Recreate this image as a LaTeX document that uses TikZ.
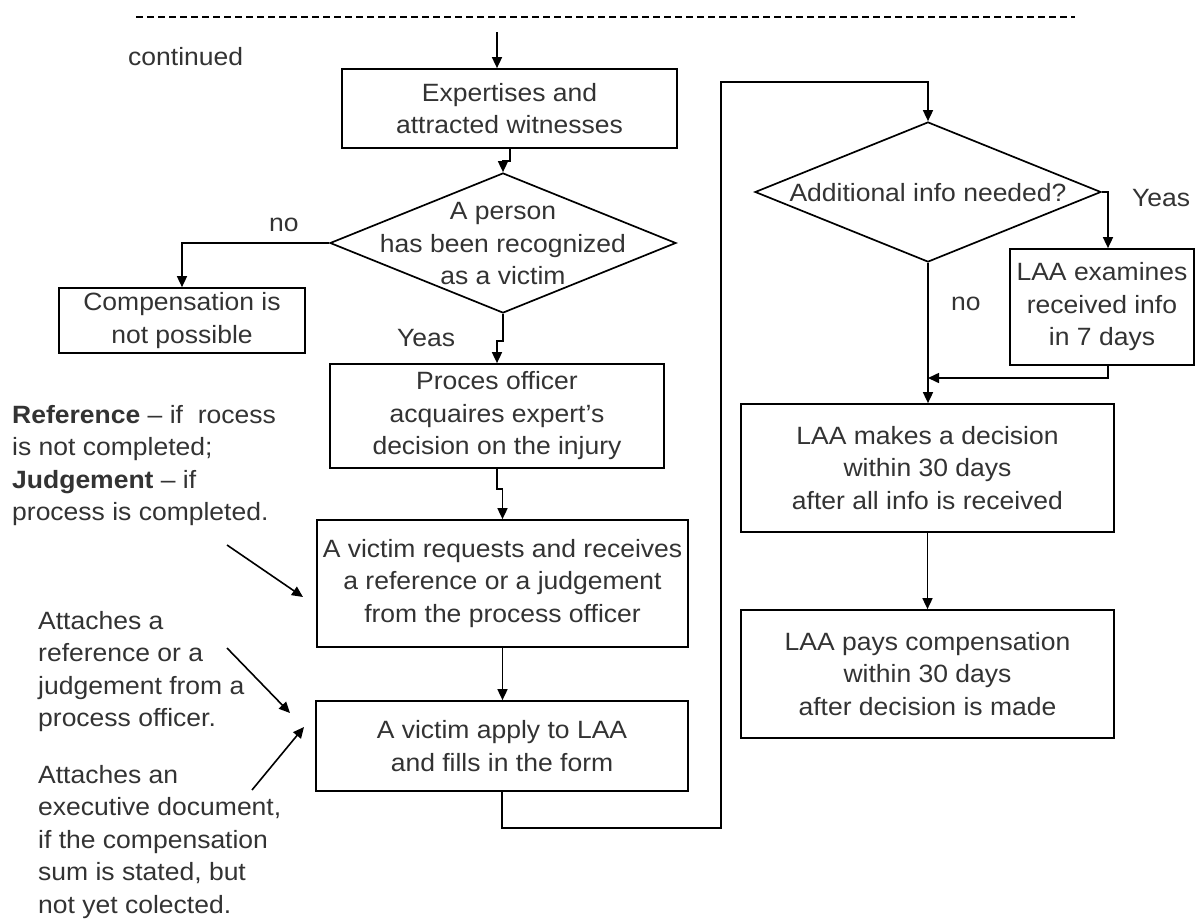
\documentclass[tikz,border=0pt]{standalone}
\usepackage{fontspec}
\setmainfont{Liberation Sans}[FakeStretch=1.06]
\usetikzlibrary{arrows.meta,shapes.geometric}
\tikzset{
  box/.style={draw, line width=1.7pt, rectangle, inner sep=0pt, align=center, text=black!80},
  dia/.style={draw, line width=1.7pt, diamond, inner sep=0pt, minimum width=346pt, minimum height=140pt},
  diatext/.style={inner sep=0pt, align=center, text=black!80},
  arr/.style={line width=1.6pt, -{Triangle[length=11pt,width=10pt]}},
  conn/.style={line width=1.6pt},
  lbl/.style={inner sep=0pt, text=black!80, anchor=base west},
  note/.style={inner sep=0pt, align=left, anchor=north west, text=black!80},
  sep line/.style={line width=1.1pt, dash pattern=on 7pt off 4pt}
}
\begin{document}
\begin{tikzpicture}[x=1pt, y=-1pt, font=\fontsize{25}{32.5}\selectfont]
\fill[white] (0,0) rectangle (1195,919);
\useasboundingbox (0,0) rectangle (1195,919);

% separator line
\coordinate (ds) at (136,17);
\coordinate (de) at (1075,17);
\draw[sep line] (ds) -- (de);

\node[lbl] (cont) at (128,65) {continued};

% left column
\node[box, minimum width=335pt, minimum height=79pt] (b1) at (509.5,108.5) {Expertises and\\attracted witnesses};
\node[dia] (d1) at (503,243) {};
\node[diatext] (d1t) at (503,244) {A person\\has been recognized\\as a victim};
\node[box, minimum width=246pt, minimum height=65pt] (b2) at (182,320.5) {Compensation is\\not possible};
\node[box, minimum width=334pt, minimum height=104pt] (b3) at (497,416) {Proces officer\\acquaires expert's\\decision on the injury};
\node[box, minimum width=371pt, minimum height=127pt] (b4) at (502.5,583.5) {A victim requests and receives\\a reference or a judgement\\from the process officer};
\node[box, minimum width=372pt, minimum height=90pt] (b5) at (502,746) {A victim apply to LAA\\and fills in the form};

% right column
\node[dia] (d2) at (928,192) {};
\node[diatext] (d2t) at (928,193) {Additional info needed?};
\node[box, minimum width=184pt, minimum height=116pt] (b6) at (1102,307) {LAA examines\\received info\\in 7 days};
\node[box, minimum width=373pt, minimum height=128pt] (b7) at (927.5,468) {LAA makes a decision\\within 30 days\\after all info is received};
\node[box, minimum width=373pt, minimum height=128pt] (b8) at (927.5,674) {LAA pays compensation\\within 30 days\\after decision is made};

% labels
\node[lbl] (no1) at (269,231) {no};
\node[lbl] (yes1) at (397,346) {Yeas};
\node[lbl] (yes2) at (1132,206) {Yeas};
\node[lbl] (no2) at (951,310) {no};

% notes
\node[note] (n1) at (12,405) {\textbf{Reference} -- if\ \ rocess\\is not completed;\\\textbf{Judgement} -- if\\process is completed.};
\node[note] (n2) at (38,611) {Attaches a\\reference or a\\judgement from a\\process officer.};
\node[note] (n3) at (38,765) {Attaches an\\executive document,\\if the compensation\\sum is stated, but\\not yet colected.};

% connectors
\coordinate (s0) at (497,32);
\draw[arr] (s0) -- (s0 |- b1.north);
\draw[arr] ([xshift=0.5pt]b1.south) -- ++(0,12) -| (d1.north);
\draw[arr] (d1.west) -| (b2.north);
\draw[arr] (d1.south) -- ++(0,27) -| (b3.north);
\draw[arr] (b3.south) -- ++(0,20) -| (b4.north);
\draw[arr] (b4.south) -- (b4.south |- b5.north);

\coordinate (l1) at (721,828);
\coordinate (l2) at (721,82);
\draw[arr] (b5.south) |- (l1) -- (l2) -| (d2.north);

\draw[arr] (d2.east) -| ([xshift=6pt]b6.north);
\coordinate (j) at (928,378);
\draw[conn] (d2.south) -- (j);
\draw[arr] ([xshift=6pt]b6.south) |- (j);
\draw[arr] (j) -- (j |- b7.north);
\draw[arr] (b7.south) -- (b8.north);

% annotation arrows
\coordinate (a1s) at (227,545);
\coordinate (a1e) at (303,597);
\coordinate (a2s) at (227,648);
\coordinate (a2e) at (290,713);
\coordinate (a3s) at (252,790);
\coordinate (a3e) at (304,727);
\draw[arr] (a1s) -- (a1e);
\draw[arr] (a2s) -- (a2e);
\draw[arr] (a3s) -- (a3e);
\end{tikzpicture}
\end{document}
